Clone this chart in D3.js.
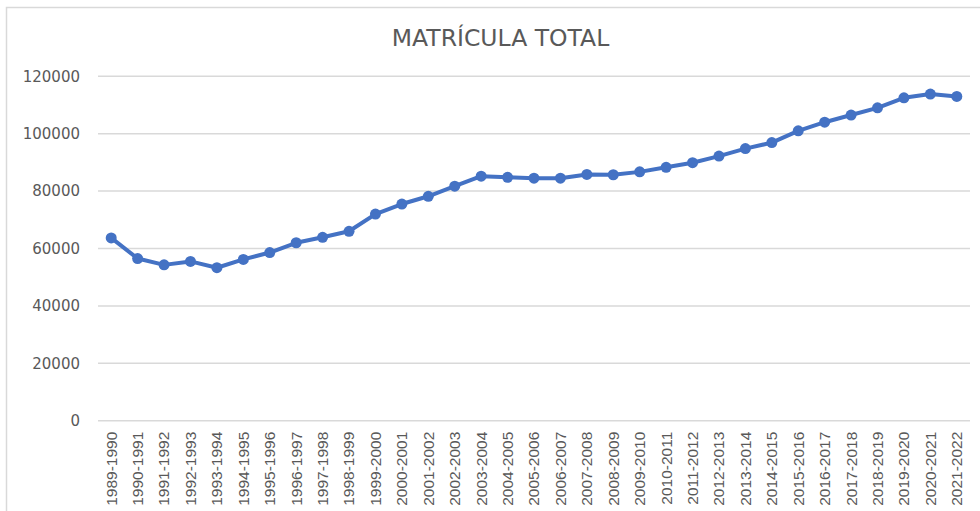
<!DOCTYPE html>
<html>
<head>
<meta charset="utf-8">
<script src="https://cdn.jsdelivr.net/npm/d3@7"></script>
<style>
  html, body { margin: 0; padding: 0; background: #fff; }
  svg { display: block; }
</style>
</head>
<body>
<svg id="chart" width="980" height="511"></svg>
<script>
const chartTitle = "MATRÍCULA TOTAL";
const categories = ["1989-1990","1990-1991","1991-1992","1992-1993","1993-1994","1994-1995","1995-1996","1996-1997","1997-1998","1998-1999","1999-2000","2000-2001","2001-2002","2002-2003","2003-2004","2004-2005","2005-2006","2006-2007","2007-2008","2008-2009","2009-2010","2010-2011","2011-2012","2012-2013","2013-2014","2014-2015","2015-2016","2016-2017","2017-2018","2018-2019","2019-2020","2020-2021","2021-2022"];
const values = [63700,56500,54300,55500,53300,56200,58600,62000,63900,66000,72000,75500,78200,81700,85200,84800,84500,84500,85800,85700,86700,88300,89900,92200,94800,96900,101000,104000,106500,109000,112500,113800,113000];
const yTicks = [0,20000,40000,60000,80000,100000,120000];

const svg = d3.select("#chart");
const W = 980, H = 511;

// chart border
svg.append("rect")
  .attr("x", 6.5).attr("y", 7.5)
  .attr("width", W + 10).attr("height", H + 10)
  .attr("fill", "#fff").attr("stroke", "#d9d9d9").attr("stroke-width", 1.5);

const x = d3.scaleBand().domain(categories).range([98, 970]).padding(0);
const y = d3.scaleLinear().domain([0, 120000]).range([420.7, 76.3]);

// gridlines
svg.append("g").selectAll("line").data(yTicks).join("line")
  .attr("x1", 98).attr("x2", 970)
  .attr("y1", d => y(d)).attr("y2", d => y(d))
  .attr("stroke", "#d9d9d9").attr("stroke-width", 1.5);

// y axis labels
const yAxis = d3.axisLeft(y).tickValues(yTicks).tickSize(0).tickPadding(0).tickFormat(d3.format("d"));
const gy = svg.append("g").attr("transform", "translate(80,0)").call(yAxis);
gy.select(".domain").remove();
gy.selectAll("text")
  .attr("fill", "#595959")
  .style("font-family", "'DejaVu Sans', sans-serif")
  .style("font-size", "15px");

// x axis labels
const xAxis = d3.axisBottom(x).tickSize(0).tickPadding(0);
const gx = svg.append("g").attr("transform", "translate(0,420.7)").call(xAxis);
gx.select(".domain").remove();
gx.selectAll("text")
  .attr("fill", "#595959")
  .style("font-family", "'Liberation Sans', Arial, sans-serif")
  .style("font-size", "15.5px")
  .attr("text-anchor", "end")
  .attr("dy", "0.35em")
  .attr("transform", "translate(0,11) rotate(-90)")
  .attr("y", 0).attr("x", 0);

// line
const line = d3.line()
  .x((d, i) => x(categories[i]) + x.bandwidth() / 2)
  .y(d => y(d));
svg.append("path").datum(values)
  .attr("d", line)
  .attr("fill", "none")
  .attr("stroke", "#4472c4")
  .attr("stroke-width", 4)
  .attr("stroke-linejoin", "round");

svg.append("g").selectAll("circle").data(values).join("circle")
  .attr("cx", (d, i) => x(categories[i]) + x.bandwidth() / 2)
  .attr("cy", d => y(d))
  .attr("r", 5.5)
  .attr("fill", "#4472c4");

// title
svg.append("text")
  .attr("x", 500.5).attr("y", 46)
  .attr("text-anchor", "middle")
  .attr("fill", "#595959")
  .style("font-family", "'DejaVu Sans', sans-serif")
  .style("font-size", "23.5px")
  .text(chartTitle);
</script>
</body>
</html>
